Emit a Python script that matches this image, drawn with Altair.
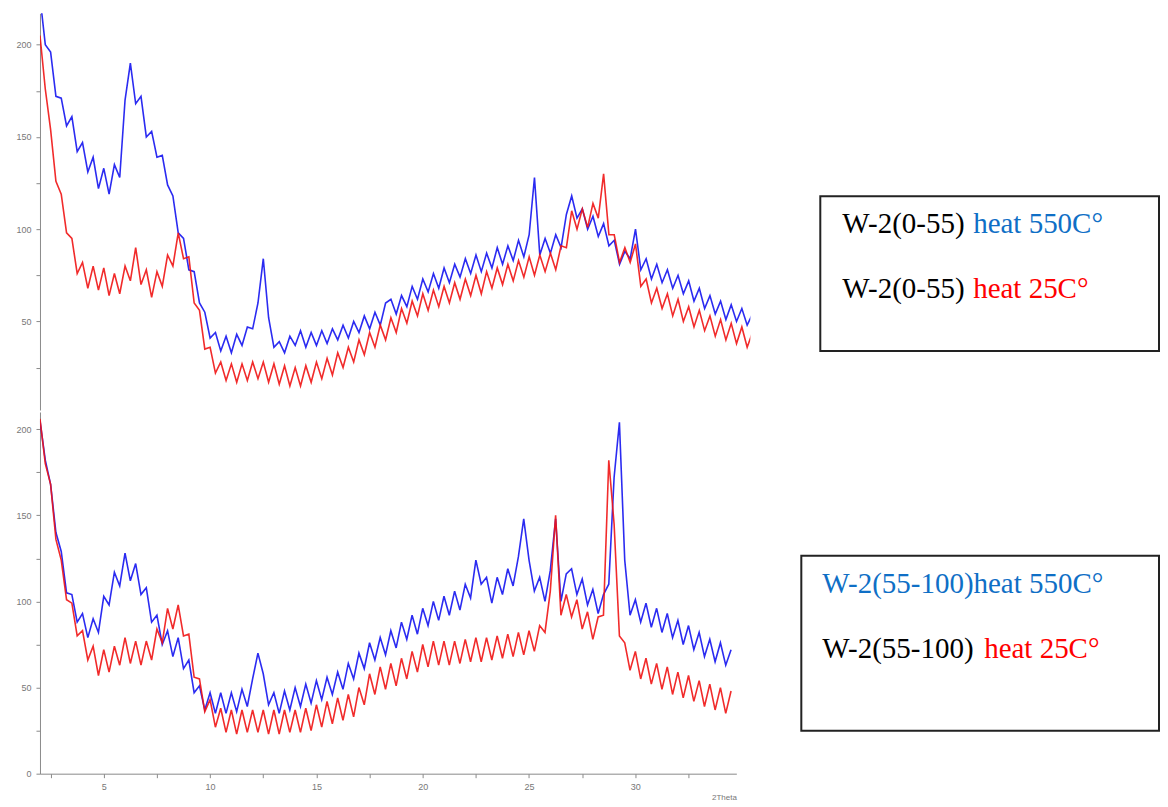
"""XRD patterns of W-2 fractions (0-55 and 55-100) heated to 25 and 550 C, two stacked panels."""

import altair as alt
import pandas as pd

# scans start at 2.0 degrees 2Theta, one reading every 0.25 degrees
SCAN_START = 2.0
SCAN_STEP = 0.25

# upper panel: W-2(0-55), 2.0 .. 35.5 deg
top_550 = [
    226, 200, 196, 172, 171, 156, 161, 142,  # 2.0
    147, 131, 139, 122, 133, 119, 135, 128,  # 4.0
    170, 190, 168, 172, 150, 153, 139, 140,  # 6.0
    124, 118, 98, 95, 78, 77, 60, 55,  # 8.0
    41, 44, 34, 42, 33, 43, 37, 47,  # 10.0
    46, 60, 84, 52, 36, 39, 33, 42,  # 12.0
    37, 45, 36, 44, 37, 45, 38, 46,  # 14.0
    40, 48, 41, 50, 44, 53, 46, 55,  # 16.0
    48, 60, 62, 54, 64, 58, 69, 62,  # 18.0
    73, 66, 76, 68, 79, 71, 81, 74,  # 20.0
    84, 76, 86, 77, 87, 79, 90, 81,  # 22.0
    91, 83, 94, 85, 97, 128, 86, 95,  # 24.0
    87, 97, 90, 108, 118, 106, 111, 100,  # 26.0
    107, 96, 103, 91, 94, 81, 88, 84,  # 28.0
    100, 78, 84, 73, 81, 71, 78, 68,  # 30.0
    75, 65, 72, 61, 68, 57, 64, 54,  # 32.0
    61, 51, 59, 50, 57, 48, 54,  # 34.0
]
top_25 = [
    205, 176, 154, 126, 119, 98, 95, 76,  # 2.0
    82, 68, 80, 67, 79, 64, 76, 65,  # 4.0
    80, 72, 90, 70, 78, 63, 77, 69,  # 6.0
    86, 80, 98, 84, 85, 60, 56, 35,  # 8.0
    36, 22, 28, 18, 27, 17, 27, 18,  # 10.0
    28, 19, 28, 17, 27, 16, 26, 15,  # 12.0
    25, 15, 26, 17, 28, 19, 30, 21,  # 14.0
    33, 25, 36, 28, 40, 32, 44, 36,  # 16.0
    48, 40, 52, 44, 57, 49, 61, 53,  # 18.0
    65, 56, 67, 58, 69, 60, 71, 62,  # 20.0
    73, 64, 75, 65, 77, 68, 79, 70,  # 22.0
    81, 72, 83, 74, 85, 75, 86, 77,  # 24.0
    87, 78, 91, 90, 110, 100, 111, 101,  # 26.0
    114, 106, 130, 97, 97, 82, 90, 82,  # 28.0
    92, 69, 73, 60, 68, 57, 65, 53,  # 30.0
    62, 50, 58, 47, 56, 45, 53, 42,  # 32.0
    51, 40, 49, 38, 47, 36, 44,  # 34.0
]

# lower panel: W-2(55-100), 2.0 .. 34.5 deg
bottom_550 = [
    205, 182, 168, 140, 129, 105, 104, 88,  # 2.0
    93, 79, 90, 82, 103, 98, 117, 109,  # 4.0
    128, 112, 122, 104, 108, 88, 92, 75,  # 6.0
    83, 68, 79, 61, 66, 47, 51, 37,  # 8.0
    47, 35, 47, 35, 47, 36, 49, 39,  # 10.0
    55, 70, 58, 40, 47, 35, 48, 37,  # 12.0
    50, 39, 52, 41, 54, 43, 56, 46,  # 14.0
    59, 49, 64, 55, 70, 61, 76, 66,  # 16.0
    79, 69, 83, 73, 88, 78, 92, 81,  # 18.0
    96, 86, 100, 89, 103, 92, 106, 95,  # 20.0
    110, 102, 124, 110, 114, 99, 114, 104,  # 22.0
    119, 109, 126, 148, 124, 106, 114, 100,  # 24.0
    118, 148, 100, 116, 119, 104, 113, 98,  # 26.0
    107, 93, 104, 110, 172, 204, 124, 92,  # 28.0
    101, 88, 99, 85, 96, 82, 93, 79,  # 30.0
    89, 75, 86, 72, 82, 68, 78, 65,  # 32.0
    76, 63, 72,  # 34.0
]
bottom_25 = [
    206, 180, 168, 136, 124, 101, 99, 80,  # 2.0
    83, 66, 74, 57, 72, 59, 74, 63,  # 4.0
    79, 64, 77, 63, 77, 66, 84, 76,  # 6.0
    96, 84, 98, 80, 81, 56, 55, 36,  # 8.0
    43, 27, 38, 24, 37, 23, 37, 24,  # 10.0
    37, 24, 37, 23, 37, 23, 37, 24,  # 12.0
    37, 24, 38, 25, 40, 27, 42, 29,  # 14.0
    44, 31, 46, 33, 50, 40, 58, 46,  # 16.0
    62, 49, 64, 51, 67, 55, 71, 59,  # 18.0
    75, 62, 77, 63, 77, 63, 77, 64,  # 20.0
    78, 65, 79, 65, 79, 66, 80, 67,  # 22.0
    81, 68, 82, 69, 83, 71, 86, 82,  # 24.0
    106, 150, 92, 104, 91, 101, 84, 94,  # 26.0
    78, 91, 92, 182, 145, 80, 76, 60,  # 28.0
    71, 55, 67, 52, 64, 49, 62, 46,  # 30.0
    59, 44, 57, 42, 54, 39, 52, 37,  # 32.0
    50, 35, 48,  # 34.0
]

y_ticks = [0, 25, 50, 75, 100, 125, 150, 175, 200]
x_ticks = [2.5, 5, 7.5, 10, 12.5, 15, 17.5, 20, 22.5, 25, 27.5, 30, 32.5]

BLUE = "#1414f0"
RED = "#f01414"
TEXT_BLUE = "#0f6fc6"
TEXT_RED = "#ff0000"


def scan(values: list) -> pd.DataFrame:
    """Turn one list of intensities into a 2Theta / intensity table."""
    return pd.DataFrame(
        {
            "two_theta": [SCAN_START + SCAN_STEP * i for i in range(len(values))],
            "intensity": values,
        }
    )


def trace(values: list, color: str, x_scale: alt.Scale, x_axis, y_scale: alt.Scale) -> alt.Chart:
    return (
        alt.Chart(scan(values))
        .mark_line(color=color, strokeWidth=1.6, opacity=0.9, clip=True)
        .encode(
            x=alt.X("two_theta:Q", scale=x_scale, axis=x_axis),
            y=alt.Y(
                "intensity:Q",
                scale=y_scale,
                axis=alt.Axis(
                    values=y_ticks,
                    labelExpr="datum.value % 50 == 0 ? datum.label : ''",
                    title=None,
                    labelOverlap=False,
                ),
            ),
        )
    )


def label(text: str, x: float, y: float, color: str = "black") -> alt.Chart:
    return (
        alt.Chart(alt.Data(values=[{}]))
        .mark_text(
            text=text,
            align="left",
            baseline="alphabetic",
            font="Liberation Serif",
            fontSize=29,
            color=color,
        )
        .encode(x=alt.value(x), y=alt.value(y))
    )


def box(x: float, x2: float, y: float, y2: float) -> alt.Chart:
    return (
        alt.Chart(alt.Data(values=[{}]))
        .mark_rect(fill="white", fillOpacity=0, stroke="#222222", strokeWidth=2)
        .encode(x=alt.value(x), x2=alt.value(x2), y=alt.value(y), y2=alt.value(y2))
    )


# upper panel (its x axis is cut off in the figure)
top_x = alt.Scale(domain=[2.0, 35.4], nice=False, zero=False)
top_y = alt.Scale(domain=[2, 217], nice=False, zero=False)
top = alt.layer(
    trace(top_550, BLUE, top_x, None, top_y),
    trace(top_25, RED, top_x, None, top_y),
    box(781, 1120, 183, 338),
    label("W-2(0-55) ", 803, 220),
    label("heat 550C°", 934, 220, TEXT_BLUE),
    label("W-2(0-55) ", 803, 285),
    label("heat 25C°", 934, 285, TEXT_RED),
).properties(width=711, height=397)

# lower panel
bottom_x = alt.Scale(domain=[2.0, 34.75], nice=False, zero=False)
bottom_y = alt.Scale(domain=[0, 210], nice=False, zero=False)
bottom_x_axis = alt.Axis(
    values=x_ticks,
    labelExpr="datum.value % 5 == 0 ? datum.label : ''",
    labelOverlap=False,
    labelFlush=False,
    title="2Theta",
    titleAnchor="end",
    titleFontSize=8,
    titleFontWeight="normal",
    titleColor="#777777",
    titlePadding=2,
)
bottom = alt.layer(
    trace(bottom_550, BLUE, bottom_x, bottom_x_axis, bottom_y),
    trace(bottom_25, RED, bottom_x, bottom_x_axis, bottom_y),
    box(762, 1120, 144, 319),
    label("W-2(55-100)heat 550C°", 783, 181, TEXT_BLUE),
    label("W-2(55-100) ", 783, 246),
    label("heat 25C°", 945, 246, TEXT_RED),
).properties(width=697, height=362)

chart = (
    alt.vconcat(top, bottom, spacing=2)
    .properties(padding={"left": 7, "top": 5, "right": 0, "bottom": 0}, background="white")
    .configure_view(stroke=None)
    .configure_axis(
        grid=False,
        labelFont="Liberation Sans",
        labelFontSize=9,
        labelColor="#777777",
        labelPadding=5,
        domainColor="#8a8a8a",
        tickColor="#8a8a8a",
        tickSize=4,
        titleFont="Liberation Sans",
    )
)

chart.save("out.html", embed_options={"renderer": "svg", "actions": False})
